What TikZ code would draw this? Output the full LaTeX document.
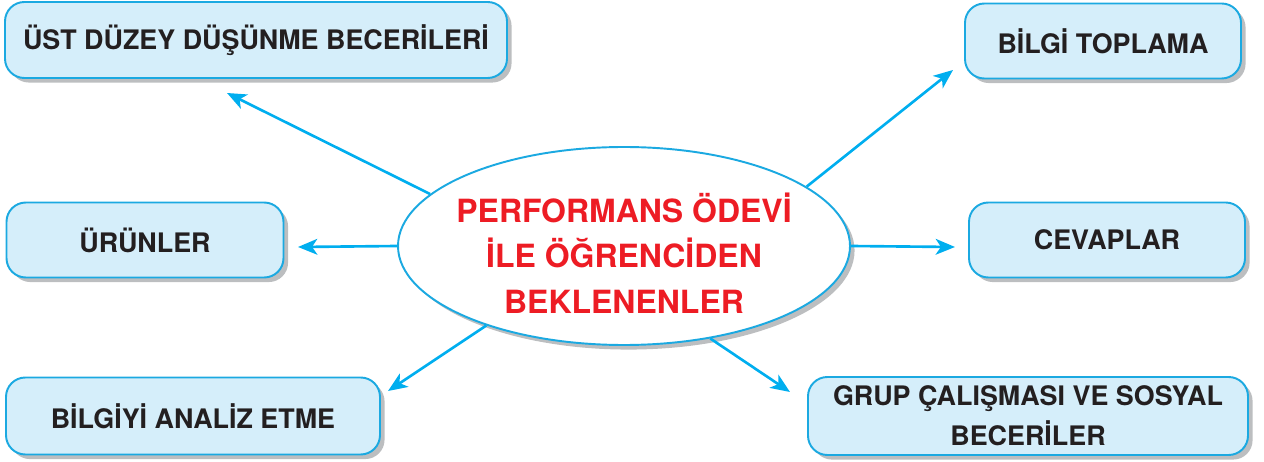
\documentclass[tikz,border=0pt]{standalone}
\usepackage{fontspec}
\setmainfont{TeX Gyre Heros}
\usepackage{xcolor}
\usepackage{tikz}
\usetikzlibrary{shapes.geometric,shadows,arrows.meta}
\definecolor{linecyan}{HTML}{00AEEF}
\definecolor{boxfill}{HTML}{D5EEFA}
\definecolor{boxline}{HTML}{1BA9E1}
\definecolor{ink}{HTML}{231F20}
\definecolor{headred}{HTML}{ED1C24}
\definecolor{shade}{HTML}{BCBEC0}
\tikzset{
  kutu/.style={draw=boxline, fill=boxfill, line width=1.1pt, rounded corners=11pt,
    inner sep=0pt, align=center, text=ink, font=\fontsize{15.3}{22.7}\selectfont\bfseries,
    general shadow={fill=shade, shadow xshift=2.6pt, shadow yshift=-2.6pt}},
  merkez/.style={ellipse, draw=boxline, fill=white, line width=1.1pt,
    inner xsep=-12pt, inner ysep=-14pt,
    align=center, text=headred, font=\fontsize{18.2}{26}\selectfont\bfseries,
    general shadow={fill=shade, shadow xshift=2.6pt, shadow yshift=-2.6pt}},
  ok/.style={draw=linecyan, line width=1.5pt, -{Stealth[length=11pt,width=9pt,inset=3pt]}},
}

\begin{document}
\begin{tikzpicture}[x=0.02cm, y=-0.02cm]
  \useasboundingbox (0,0) rectangle (1264,462);
  % central idea
  \node[merkez, minimum width=452*0.02cm, minimum height=198*0.02cm] (el) at (624,246)
    {\mbox{}\\[-1pt]PERFORMANS ÖDEVİ\\İLE ÖĞRENCİDEN\\BEKLENENLER};
  % outcome boxes
  \node[kutu, minimum width=502*0.02cm, minimum height=76*0.02cm] (ust) at (256,40)
    {ÜST DÜZEY DÜŞÜNME BECERİLERİ};
  \node[kutu, minimum width=276*0.02cm, minimum height=75*0.02cm] (bilgi) at (1103,41)
    {BİLGİ TOPLAMA};
  \node[kutu, minimum width=277*0.02cm, minimum height=75*0.02cm] (urun) at (145,240)
    {ÜRÜNLER};
  \node[kutu, minimum width=276*0.02cm, minimum height=75*0.02cm] (cevap) at (1107,240)
    {CEVAPLAR};
  \node[kutu, minimum width=374*0.02cm, minimum height=77*0.02cm] (analiz) at (193,416)
    {BİLGİYİ ANALİZ ETME};
  \node[kutu, minimum width=440*0.02cm, minimum height=78*0.02cm] (grup) at (1028,416)
    {GRUP ÇALIŞMASI VE SOSYAL\\BECERİLER};
  % arrow tips
  \coordinate (t1) at (227,93);
  \coordinate (t2) at (953,70);
  \coordinate (t3) at (298,247);
  \coordinate (t4) at (955,247);
  \coordinate (t5) at (388,391);
  \coordinate (t6) at (790,392);
  \draw[ok] (el.165) -- (t1);
  \draw[ok] (el.18) -- (t2);
  \draw[ok] (el.180) -- (t3);
  \draw[ok] (el.0) -- (t4);
  \draw[ok] (el.210) -- (t5);
  \draw[ok] (el.313) -- (t6);
\end{tikzpicture}
\end{document}
